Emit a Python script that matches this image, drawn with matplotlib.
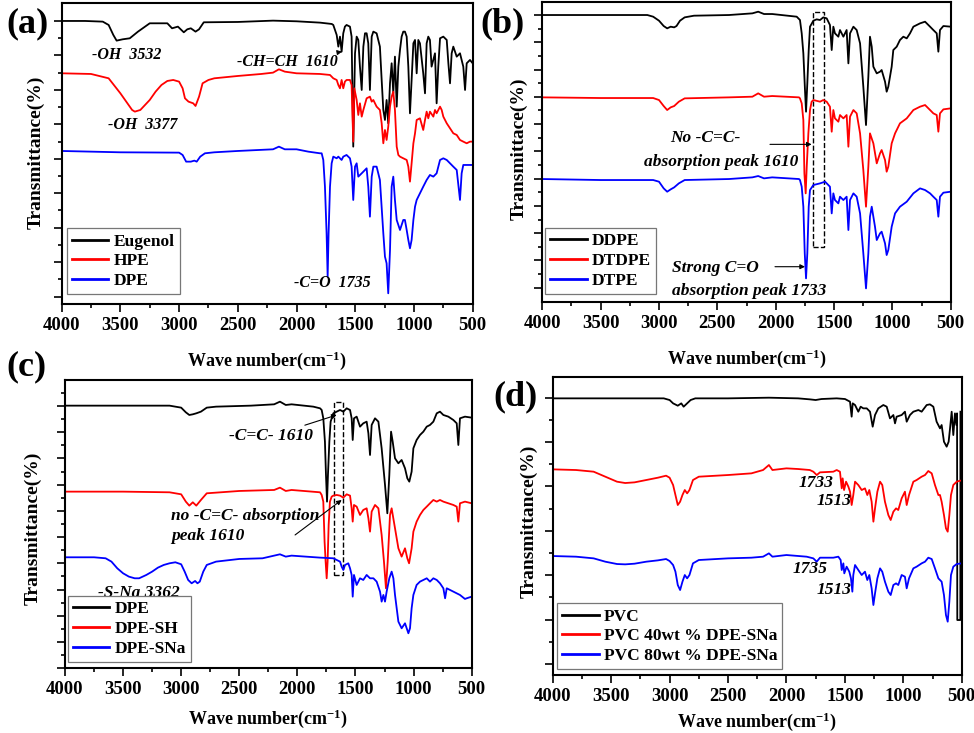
import numpy as np
import matplotlib
matplotlib.use("Agg")
import matplotlib.pyplot as plt
from matplotlib.patches import Rectangle

plt.rcParams['font.family'] = ['Liberation Serif', 'DejaVu Serif']
plt.rcParams['font.weight'] = 'bold'
plt.rcParams['mathtext.fontset'] = 'custom'
plt.rcParams['mathtext.rm'] = 'Liberation Serif:bold'
plt.rcParams['mathtext.it'] = 'Liberation Serif:bold'
plt.rcParams['mathtext.bf'] = 'Liberation Serif:bold'

# ---- data: (wave number, transmittance a.u.) ----
# (a)
eugenol = [(4000, 82.7), (3800, 82.7), (3650, 82.5), (3600, 81.5), (3560, 78.5), (3532, 76.8), (3480, 77.2),
           (3420, 77.5), (3350, 79.5), (3250, 82), (3100, 82), (3060, 80.5), (3010, 81), (2960, 79.3),
           (2930, 80.2), (2900, 80.5), (2860, 79.5), (2830, 80.2), (2790, 82.3), (2500, 82.4), (2200, 82.8),
           (2000, 82.6), (1800, 82.2), (1700, 81.8), (1687, 81.5), (1658, 78.5), (1644, 75), (1630, 78),
           (1616, 73.5), (1602, 79), (1588, 81), (1574, 81.5), (1545, 81), (1531, 78), (1517, 45), (1502, 73),
           (1488, 78), (1474, 77), (1460, 69), (1445, 62), (1431, 75), (1417, 79), (1403, 79), (1389, 76),
           (1375, 62), (1360, 78), (1346, 79.5), (1318, 79), (1290, 75), (1275, 65), (1261, 56), (1247, 53),
           (1233, 59), (1219, 52), (1204, 64), (1190, 70), (1176, 61), (1162, 72), (1147, 57), (1133, 69),
           (1119, 74), (1105, 78), (1091, 79.5), (1077, 79.5), (1062, 78), (1048, 69), (1034, 55), (1020, 65),
           (1005, 76), (991, 77), (977, 67), (963, 77), (949, 76), (921, 67), (906, 61), (892, 76), (878, 78),
           (864, 77), (850, 69), (821, 73), (807, 58), (793, 69), (778, 77.5), (750, 78), (721, 77), (707, 70),
           (693, 64), (679, 73), (665, 75), (636, 72), (608, 73), (580, 69), (565, 62), (551, 70), (523, 71),
           (500, 70)]
hpe = [(4000, 67), (3750, 66.8), (3600, 65.5), (3500, 61), (3450, 58.5), (3400, 56), (3377, 55.5), (3330, 56),
       (3250, 59), (3200, 61.5), (3150, 63.5), (3100, 64.7), (3050, 65), (3000, 64.5), (2970, 62.5),
       (2950, 59.5), (2920, 58.5), (2880, 58), (2860, 57.2), (2830, 60), (2800, 64), (2750, 65), (2700, 65.5),
       (2500, 66.2), (2300, 66.8), (2200, 67.2), (2150, 68.2), (2100, 67.5), (2000, 67), (1800, 66.8),
       (1715, 66.5), (1687, 65.5), (1658, 65), (1644, 63.5), (1630, 62.5), (1616, 65), (1602, 62.5),
       (1588, 64.5), (1574, 65), (1545, 65), (1531, 63.5), (1517, 46.5), (1508, 62.5), (1488, 59),
       (1474, 54.5), (1460, 58), (1445, 54), (1431, 56), (1403, 59.5), (1375, 60), (1360, 58.5), (1346, 59),
       (1318, 57), (1290, 56), (1275, 52), (1261, 46), (1247, 50), (1233, 47), (1219, 51), (1204, 57),
       (1190, 60), (1176, 61.5), (1162, 56), (1147, 45), (1133, 42.5), (1119, 42), (1091, 41.5), (1062, 41),
       (1048, 39), (1034, 34.5), (1020, 40), (1005, 46), (991, 49), (977, 53), (949, 53.5), (921, 50),
       (906, 53), (892, 55.5), (878, 53.5), (864, 55.5), (835, 54), (821, 56), (807, 55), (778, 57), (764, 56),
       (750, 54), (721, 52), (693, 50.5), (665, 49), (636, 48.5), (608, 47), (580, 46.5), (551, 46),
       (523, 46.5), (500, 46.5)]
dpe_a = [(4000, 43.7), (3750, 43.5), (3500, 43.3), (3000, 43.2), (2970, 42.5), (2940, 40.5), (2900, 40.5),
         (2870, 40.8), (2850, 40.5), (2820, 42), (2780, 43), (2700, 43.3), (2500, 43.7), (2200, 44.2),
         (2150, 45), (2100, 44.2), (2000, 44.2), (1900, 43.5), (1800, 43), (1786, 43), (1772, 41), (1758, 33),
         (1744, 19), (1735, 6), (1727, 19), (1715, 33), (1701, 40), (1687, 42), (1658, 41.5), (1644, 42),
         (1616, 41), (1602, 42), (1574, 42.5), (1545, 41.5), (1531, 39), (1517, 29), (1502, 39), (1488, 40),
         (1474, 36), (1445, 37), (1417, 38), (1403, 38.5), (1389, 33), (1375, 24), (1360, 36), (1346, 39),
         (1318, 39), (1290, 35), (1261, 19), (1247, 12), (1233, 10), (1219, 1), (1204, 14), (1190, 33),
         (1176, 36), (1162, 29), (1147, 23), (1119, 20), (1091, 23), (1077, 23), (1062, 20), (1048, 17),
         (1034, 14.5), (1020, 17), (1005, 23), (991, 27), (977, 29), (963, 30), (949, 31), (921, 33), (892, 35),
         (864, 36.5), (835, 36), (807, 37), (778, 41), (750, 41.5), (721, 41), (693, 40), (665, 39), (636, 38),
         (608, 29), (594, 37), (580, 39.5), (551, 39.5), (500, 39.5)]

# (b)
ddpe = [(4000, 81.8), (3100, 81.8), (3050, 81.3), (3000, 80.1), (2960, 78.5), (2930, 77.8), (2900, 78.3),
        (2870, 78.1), (2850, 78.5), (2820, 80.1), (2780, 81.1), (2700, 81.6), (2400, 81.8), (2200, 82.3),
        (2150, 82.8), (2100, 82.1), (2030, 82.1), (1820, 81.3), (1792, 80.3), (1777, 76.3), (1763, 70.3),
        (1749, 59.3), (1740, 52.8), (1729, 61.3), (1717, 71.3), (1706, 78.3), (1677, 80.1), (1649, 80.5),
        (1620, 80.3), (1592, 81.1), (1563, 80.8), (1535, 78.8), (1520, 71.3), (1506, 78.3), (1492, 76.3),
        (1463, 75.3), (1449, 77.3), (1420, 75.3), (1392, 77.3), (1377, 67.3), (1363, 76.3), (1334, 78.3),
        (1306, 77.3), (1277, 73.3), (1249, 60.3), (1226, 48.8), (1206, 63.3), (1192, 75.3), (1177, 72.3),
        (1163, 66.3), (1134, 64.3), (1106, 64.8), (1092, 65.3), (1063, 61.8), (1049, 58.8), (1035, 60.3),
        (1006, 66.3), (992, 71.3), (963, 72.3), (935, 74.3), (906, 75.3), (877, 74.8), (849, 76.3),
        (820, 78.3), (763, 79.3), (720, 79.8), (677, 78.3), (649, 77.3), (620, 76.3), (606, 70.8),
        (592, 77.3), (563, 78.5), (500, 78.3)]
dtdpe = [(4000, 57.1), (3500, 56.9), (3050, 56.9), (3000, 56.3), (2960, 54.5), (2930, 53.3), (2900, 54.1),
         (2870, 54.5), (2830, 55.8), (2780, 56.8), (2400, 57.1), (2200, 57.3), (2150, 58.3), (2100, 57.3),
         (2030, 57.5), (1800, 57.1), (1792, 56.8), (1777, 55.3), (1763, 50.3), (1754, 34.3), (1743, 28.3),
         (1734, 36.3), (1720, 46.3), (1706, 53.3), (1692, 55.8), (1677, 56.3), (1620, 55.8), (1592, 56.3),
         (1563, 55.8), (1535, 54.3), (1520, 46.8), (1506, 53.3), (1492, 50.8), (1463, 49.8), (1449, 51.8),
         (1420, 50.8), (1392, 51.8), (1377, 42.3), (1363, 51.3), (1334, 53.3), (1306, 52.3), (1277, 46.3),
         (1249, 35.3), (1226, 24.3), (1206, 36.3), (1192, 46.3), (1163, 43.3), (1134, 37.3), (1106, 40.3),
         (1092, 41.3), (1063, 38.3), (1049, 34.8), (1035, 36.3), (1006, 43.3), (977, 46.3), (935, 49.3),
         (877, 50.8), (820, 53.3), (763, 54.3), (720, 54.8), (677, 53.3), (649, 52.3), (620, 51.8),
         (606, 46.8), (592, 52.3), (563, 53.5), (500, 53.8)]
dtpe = [(4000, 32.6), (3500, 32.3), (3050, 32.3), (3000, 31.8), (2960, 29.8), (2930, 28.8), (2900, 29.5),
        (2870, 30.1), (2830, 31.3), (2780, 32.3), (2400, 32.6), (2200, 33.1), (2150, 33.5), (2100, 32.8),
        (2030, 33.1), (1800, 32.6), (1792, 32.3), (1777, 30.3), (1763, 24.3), (1751, 10.3), (1740, 2.8),
        (1729, 10.3), (1717, 24.3), (1706, 29.3), (1677, 30.8), (1620, 31.3), (1577, 31.8), (1535, 30.3),
        (1520, 22.3), (1506, 28.3), (1492, 26.3), (1463, 25.3), (1449, 27.3), (1420, 26.3), (1392, 27.3),
        (1377, 17.3), (1363, 26.3), (1334, 28.3), (1306, 27.3), (1277, 22.3), (1249, 10.3), (1226, -0.2),
        (1206, 10.3), (1192, 21.3), (1177, 24.3), (1149, 18.3), (1134, 14.3), (1106, 16.3), (1092, 16.8),
        (1063, 13.3), (1049, 9.8), (1035, 11.3), (1006, 18.3), (977, 22.3), (935, 24.3), (877, 25.8),
        (820, 28.3), (763, 29.8), (720, 29.3), (677, 28.3), (649, 27.3), (620, 26.3), (606, 21.3),
        (592, 27.3), (563, 28.5), (500, 28.8)]

# (c)
dpe_c = [(4000, 78.8), (3100, 78.8), (3000, 78.2), (2960, 76.8), (2930, 76), (2900, 76.2), (2870, 76.5),
         (2830, 77), (2780, 78.2), (2700, 78.5), (2400, 78.8), (2200, 79.2), (2150, 80), (2100, 79),
         (2050, 79.2), (1863, 78.5), (1805, 78), (1791, 77.5), (1777, 75), (1763, 68), (1754, 58),
         (1745, 50), (1737, 58), (1725, 68), (1714, 74), (1691, 76.5), (1662, 77), (1633, 77.5), (1605, 77),
         (1576, 78), (1547, 77.5), (1533, 75), (1524, 68.5), (1513, 75), (1490, 75.5), (1461, 72.5),
         (1433, 73.5), (1404, 74), (1389, 70.5), (1375, 64), (1361, 73), (1332, 75), (1303, 74), (1275, 66),
         (1246, 55), (1226, 46.5), (1209, 58), (1194, 71), (1180, 68), (1160, 63), (1131, 61.5), (1103, 62.5),
         (1074, 60), (1054, 57), (1037, 56), (1017, 59), (1002, 66), (974, 68.5), (945, 70), (916, 71),
         (887, 72.5), (859, 73), (830, 74), (801, 76.5), (773, 77), (744, 76), (701, 75.5), (658, 74.5),
         (629, 73.5), (615, 67), (601, 75), (558, 75.5), (500, 75.2)]
dpe_sh = [(4000, 53), (3500, 53), (3100, 52.8), (3000, 52.2), (2960, 50), (2930, 48.8), (2900, 49.8),
          (2870, 48.8), (2830, 50.5), (2780, 52.5), (2500, 53.2), (2200, 53.5), (2150, 54.2), (2100, 53.2),
          (2050, 53.5), (1805, 52.8), (1791, 52), (1777, 50), (1766, 38), (1757, 32), (1748, 27), (1740, 32),
          (1731, 43), (1720, 50), (1705, 51.5), (1691, 51.8), (1662, 52), (1633, 51.8), (1605, 51.2),
          (1576, 52.2), (1547, 51.8), (1533, 48), (1524, 44), (1513, 49), (1490, 48.5), (1461, 46),
          (1433, 47.5), (1404, 48), (1389, 45), (1375, 41), (1361, 47), (1332, 49), (1303, 48), (1275, 40),
          (1255, 32), (1238, 24), (1223, 32), (1203, 46), (1189, 48), (1160, 42), (1131, 36), (1103, 33.5),
          (1074, 36), (1054, 33), (1039, 31.5), (1017, 36), (1002, 41), (974, 44), (945, 46), (916, 47.5),
          (887, 48.5), (859, 49.5), (830, 50.5), (801, 50), (773, 50.5), (744, 50), (701, 49.5), (658, 49),
          (629, 48.5), (615, 44), (601, 49.5), (558, 50), (500, 49.5)]
dpe_sna = [(4000, 33.3), (3750, 33.3), (3650, 33), (3600, 32), (3550, 30), (3500, 28.5), (3450, 27.5),
           (3400, 27), (3362, 27), (3300, 28), (3250, 29), (3200, 30.2), (3150, 31), (3100, 31.5), (3050, 31.8),
           (3000, 31.2), (2970, 29), (2940, 26.5), (2910, 25.5), (2880, 26.2), (2860, 25.5), (2840, 26),
           (2810, 29), (2780, 31), (2700, 32), (2500, 32.8), (2300, 33), (2200, 33.8), (2150, 34.2),
           (2100, 33.5), (2050, 33.8), (1805, 33.2), (1691, 33), (1662, 32.5), (1633, 32), (1619, 30.5),
           (1605, 29.5), (1590, 31), (1562, 31.5), (1547, 30), (1533, 28), (1524, 21.5), (1513, 28), (1490, 25),
           (1461, 27), (1433, 26.5), (1404, 28), (1375, 27), (1346, 27), (1318, 26), (1289, 23), (1275, 20),
           (1260, 22), (1246, 20), (1232, 23), (1209, 27), (1189, 29), (1174, 27), (1160, 22), (1131, 14),
           (1103, 12), (1074, 13.5), (1045, 10.5), (1031, 12), (1017, 18), (1002, 22), (974, 25), (945, 26),
           (916, 26.5), (887, 27), (859, 26), (830, 27), (801, 26.5), (773, 25.5), (744, 24), (729, 21),
           (715, 24), (658, 23), (601, 22), (558, 20.8), (543, 21), (500, 21.5)]

# (d)
pvc = [(4000, 79.7), (3050, 79.7), (3000, 79.2), (2970, 78.2), (2930, 77.5), (2900, 78.2), (2880, 77.2),
       (2850, 78.2), (2820, 79.2), (2780, 79.7), (2500, 79.7), (2150, 79.9), (1900, 79.7), (1800, 79.4),
       (1750, 79.2), (1700, 79.5), (1570, 79.7), (1499, 79.5), (1456, 78.7), (1442, 74.2), (1433, 78.2),
       (1413, 77.7), (1385, 75.7), (1365, 77.2), (1342, 76.7), (1313, 76.7), (1285, 75.7), (1262, 71.2),
       (1242, 74.7), (1214, 76.7), (1171, 77.7), (1142, 77.2), (1114, 73.7), (1085, 74.7), (1071, 72.2),
       (1057, 74.2), (1014, 74.7), (986, 75.7), (971, 72.7), (943, 74.7), (914, 75.7), (871, 76.2),
       (843, 75.7), (800, 77.7), (772, 77.9), (743, 77.2), (715, 72.7), (686, 70.7), (672, 71.7), (652, 66.7),
       (629, 65.2), (612, 66.7), (600, 70.7), (586, 75.7), (572, 68.7), (558, 75.2), (546, 71.7), (540, 75.2),
       (538, 13.2), (512, 13.2), (511, 75.7)]
pvc40 = [(4000, 58.4), (3800, 58.2), (3650, 57.7), (3550, 56.2), (3450, 54.7), (3380, 54.3), (3300, 54.5),
         (3200, 55.2), (3100, 55.9), (3030, 56.5), (3000, 55.9), (2970, 53.7), (2950, 50.7), (2930, 47.7),
         (2910, 48.7), (2890, 50.7), (2870, 52.2), (2850, 51.2), (2830, 52.2), (2800, 55.2), (2750, 56.2),
         (2500, 56.7), (2300, 57.2), (2200, 58.2), (2150, 59.7), (2120, 58.2), (2000, 58.7), (1900, 58.5),
         (1800, 58.2), (1770, 57.7), (1741, 56.7), (1713, 57.5), (1599, 57.7), (1570, 58.2), (1542, 57.7),
         (1527, 52.7), (1519, 55.7), (1507, 52.2), (1490, 54.7), (1470, 53.2), (1456, 51.7), (1442, 47.7),
         (1428, 50.7), (1413, 54.7), (1385, 53.7), (1356, 52.2), (1328, 52.7), (1308, 50.7), (1291, 52.2),
         (1271, 48.7), (1256, 42.7), (1242, 46.7), (1222, 51.7), (1199, 54.7), (1180, 53.7), (1157, 48.7),
         (1128, 44.7), (1108, 43.2), (1085, 45.7), (1062, 46.7), (1043, 46.2), (1014, 49.7), (986, 51.7),
         (971, 47.7), (951, 50.7), (914, 54.7), (886, 55.2), (843, 56.2), (814, 56.7), (786, 57.9),
         (757, 57.2), (729, 53.7), (700, 50.7), (686, 50.7), (672, 48.7), (652, 44.7), (635, 40.7),
         (620, 39.7), (606, 44.7), (592, 50.7), (572, 53.7), (543, 54.7), (515, 55), (500, 55)]
pvc80 = [(4000, 32.4), (3800, 32.2), (3650, 31.7), (3550, 30.7), (3450, 30), (3380, 29.9), (3300, 30.1),
         (3200, 30.7), (3100, 31.1), (3030, 31.5), (3000, 30.9), (2970, 29.7), (2950, 27.7), (2930, 23.7),
         (2910, 22.2), (2890, 24.7), (2870, 26.7), (2850, 25.7), (2830, 26.7), (2800, 30.2), (2750, 31.2),
         (2500, 31.7), (2300, 31.9), (2200, 32.2), (2150, 33.2), (2120, 32.2), (2000, 32.7), (1827, 32.2),
         (1770, 31.7), (1741, 30.7), (1713, 31.9), (1599, 31.9), (1556, 32.2), (1536, 31.2), (1527, 28.2),
         (1513, 30.2), (1505, 27.2), (1485, 29.2), (1462, 27.7), (1448, 25.7), (1436, 21.7), (1428, 26.7),
         (1413, 29.7), (1385, 28.2), (1356, 26.7), (1328, 27.7), (1308, 25.2), (1291, 26.7), (1271, 22.7),
         (1256, 17.7), (1242, 21.2), (1222, 25.7), (1199, 28.7), (1180, 27.7), (1157, 24.7), (1128, 21.7),
         (1108, 20.7), (1085, 23.7), (1062, 24.2), (1043, 23.7), (1014, 26.7), (986, 26.2), (971, 22.7),
         (951, 25.7), (914, 28.7), (886, 29.2), (843, 30.2), (814, 30.7), (786, 31.9), (757, 31.5),
         (729, 28.7), (700, 25.7), (672, 24.7), (652, 20.7), (635, 14.7), (620, 12.7), (606, 18.7),
         (592, 26.7), (572, 29.2), (543, 30), (500, 30.2)]

names_a = ['Eugenol', 'HPE', 'DPE']
names_b = ['DDPE', 'DTDPE', 'DTPE']
names_c = ['DPE', 'DPE-SH', 'DPE-SNa']
names_d = ['PVC', 'PVC 40wt % DPE-SNa', 'PVC 80wt % DPE-SNa']
colors = ['black', '#ff0000', '#0000ff']

fig = plt.figure(figsize=(9.74, 7.33), dpi=100)


def panel(rect, spectra, names, ylim, step, nmaj, ylabel, leg_xy, ylab_xy, xlab_y):
    ax = fig.add_axes(rect)
    for sp, name, c in zip(spectra, names, colors):
        arr = np.array(sp, dtype=float)
        ax.plot(arr[:, 0], arr[:, 1], color=c, lw=1.3, label=name)
    ax.set_xlim(4000, 500)
    ax.set_ylim(*ylim)
    ax.set_xticks(np.arange(4000, 499, -500))
    ax.set_xticks(np.arange(3750, 500, -500), minor=True)
    maj = np.arange(nmaj) * step
    mn = np.arange(-step / 2, ylim[1], step)
    mn = mn[(mn > ylim[0] + 0.6) & (mn < ylim[1] - 0.6)]
    ax.set_yticks(maj)
    ax.set_yticks(mn, minor=True)
    ax.tick_params(which='both', direction='out', width=1.2, labelleft=False, labelsize=13.5)
    ax.tick_params(which='major', length=6)
    ax.tick_params(which='minor', length=3)
    for lab in ax.get_xticklabels():
        lab.set_fontweight('bold')
    for s in ax.spines.values():
        s.set_linewidth(1.5)
    ax.set_ylabel(ylabel, fontsize=14, fontweight='bold')
    ax.yaxis.set_label_coords(*ylab_xy)
    ax.set_xlabel('Wave number(cm$^{-1}$)', fontsize=13, fontweight='bold', va='top')
    ax.xaxis.set_label_coords(0.5, xlab_y)
    leg = ax.legend(loc='lower left', bbox_to_anchor=leg_xy, borderaxespad=0, fancybox=False,
                    edgecolor='#777777', prop={'weight': 'bold', 'size': 12.5}, handlelength=2.1,
                    labelspacing=0.2, handletextpad=0.3, borderpad=0.3, framealpha=1)
    leg.get_frame().set_linewidth(0.9)
    for ln in leg.get_lines():
        ln.set_linewidth(2)
    return ax


note = dict(style='italic', fontweight='bold')
arrow = dict(arrowstyle='-|>', color='black', lw=0.8, mutation_scale=7, shrinkA=0, shrinkB=0)

# (a)
ax = panel([0.0633, 0.5853, 0.422, 0.4102], [eugenol, hpe, dpe_a], names_a, (-2.2, 88), 10.34, 9,
           'Transmittance(%)', (0.012, 0.033), (-0.041, 0.506), -0.15)
ax.text(3744, 72.5, '-OH  3532', fontsize=11.5, va='center', **note)
ax.text(3603, 51.5, '-OH  3377', fontsize=11.5, va='center', **note)
ax.text(2018, 4, '-C=O  1735', fontsize=11.5, va='center', **note)
ax.annotate('-CH=CH  1610', xy=(1612, 73.5), xytext=(2504, 70.5), fontsize=11.5, va='center',
            arrowprops=arrow, **note)

# (b)
ax = panel([0.5568, 0.5884, 0.4193, 0.4093], [ddpe, dtdpe, dtpe], names_b, (-4.2, 85.8), 8.18, 11,
           'Transmittace(%)', (0.007, 0.026), (-0.037, 0.509), -0.154)
ax.add_patch(Rectangle((1677, 12.1), 1583 - 1677, 82.8 - 12.1, fill=False, ls='--', lw=1, ec='black'))
ax.text(2906, 44.8, 'No -C=C-', fontsize=12.5, va='center', **note)
ax.text(3126, 37.8, 'absorption peak 1610', fontsize=12.5, va='center', **note)
ax.annotate('', xy=(1692, 43), xytext=(2049, 43), arrowprops=arrow)
ax.text(2891, 5.8, 'Strong C=O', fontsize=12.5, va='center', **note)
ax.text(2891, -1, 'absorption peak 1733', fontsize=12.5, va='center', **note)
ax.annotate('', xy=(1749, 6.3), xytext=(2006, 6.3), arrowprops=arrow)

# (c)
ax = panel([0.0667, 0.0883, 0.4176, 0.3933], [dpe_c, dpe_sh, dpe_sna], names_c, (0, 86.5), 7.87, 11,
           'Transmittance(%)', (0.007, 0.022), (-0.057, 0.487), -0.137)
ax.add_patch(Rectangle((1685, 28), 1604 - 1685, 79.8 - 28, fill=False, ls='--', lw=1, ec='black'))
ax.annotate('-C=C- 1610', xy=(1662, 76), xytext=(2586, 69.7), fontsize=12.5, va='center',
            arrowprops=arrow, **note)
ax.text(3088, 45.8, 'no -C=C- absorption', fontsize=12.5, va='center', **note)
ax.text(3088, 39.7, 'peak 1610', fontsize=12.5, va='center', **note)
ax.annotate('', xy=(1619, 50.5), xytext=(2020, 40), arrowprops=arrow)
ax.text(3713, 22.7, '-S-Na 3362', fontsize=12.5, va='center', **note)

# (d)
ax = panel([0.5675, 0.0791, 0.4199, 0.407], [pvc, pvc40, pvc80], names_d, (-3.3, 86.2), 13.32, 7,
           'Transmittance(%)', (0.01, 0.02), (-0.036, 0.516), -0.12)
ax.text(1897, 54.2, '1733', fontsize=12.5, va='center', **note)
ax.text(1746, 48.9, '1513', fontsize=12.5, va='center', **note)
ax.text(1946, 28.4, '1735', fontsize=12.5, va='center', **note)
ax.text(1746, 22.2, '1513', fontsize=12.5, va='center', **note)

for lab, (x, y) in zip(['(a)', '(b)', '(c)', '(d)'],
                       [(0.0287, 0.967), (0.516, 0.968), (0.0267, 0.499), (0.529, 0.458)]):
    fig.text(x, y, lab, fontsize=26, fontweight='bold', ha='center', va='center')

fig.savefig('out.png', dpi=100)
